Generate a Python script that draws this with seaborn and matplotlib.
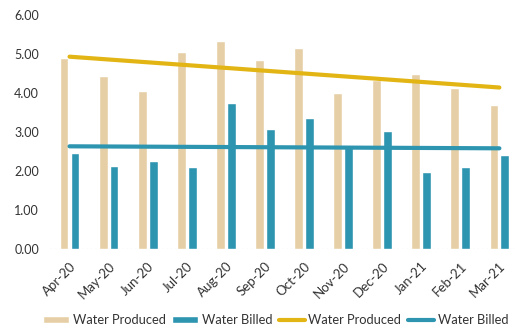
import numpy as np
import pandas as pd
import matplotlib
matplotlib.use("Agg")
import matplotlib.pyplot as plt
import seaborn as sns
from matplotlib.patches import Patch
from matplotlib.lines import Line2D

months = ["Apr-20", "May-20", "Jun-20", "Jul-20", "Aug-20", "Sep-20",
          "Oct-20", "Nov-20", "Dec-20", "Jan-21", "Feb-21", "Mar-21"]
water_produced = [4.91, 4.44, 4.05, 5.06, 5.34, 4.85, 5.15, 3.99, 4.33, 4.50, 4.12, 3.69]
water_billed = [2.47, 2.12, 2.26, 2.11, 3.74, 3.08, 3.35, 2.66, 3.02, 1.98, 2.10, 2.40]

c_prod = "#E6CFA6"
c_bill = "#2E95B0"
c_prod_line = "#E2B514"

sns.set_style("white")
plt.rcParams["font.family"] = ["Lato", "DejaVu Sans"]

df = pd.DataFrame({
    "Month": months * 2,
    "Value": water_produced + water_billed,
    "Series": ["Water Produced"] * 12 + ["Water Billed"] * 12,
})

fig = plt.figure(figsize=(5.15, 3.35), dpi=100)
ax = fig.add_axes([50 / 515, 86 / 335, 465 / 515, 234 / 335])

sns.barplot(data=df, x="Month", y="Value", hue="Series",
            palette=[c_prod, c_bill], width=0.56, gap=0.2,
            legend=False, ax=ax, saturation=1)

# linear trend lines
idx = np.arange(len(months))
sns.regplot(x=idx, y=water_produced, scatter=False, ci=None, truncate=True,
            color=c_prod_line, line_kws={"lw": 3}, ax=ax)
sns.regplot(x=idx, y=water_billed, scatter=False, ci=None, truncate=True,
            color=c_bill, line_kws={"lw": 3}, ax=ax)

ax.set_ylim(0, 6)
ax.set_xlim(-0.5, 11.4)
ax.set_yticks(np.arange(0, 6.01, 1))
ax.set_yticklabels([f"{v:.2f}" for v in np.arange(0, 6.01, 1)], fontsize=9,
                   color="#333333")
ax.set_xticks(idx)
ax.set_xticklabels(months, rotation=45, ha="right", rotation_mode="anchor",
                   fontsize=9.5, color="#333333")
ax.tick_params(axis="y", length=0, pad=8)
ax.tick_params(axis="x", length=0, pad=8)
ax.set_xlabel("")
ax.set_ylabel("")
for s in ax.spines.values():
    s.set_visible(False)
ax.axhline(0, color="#d8d8d8", lw=0.8, ls=(0, (2, 2)), zorder=0)

handles = [
    Patch(facecolor=c_prod, label="Water Produced"),
    Patch(facecolor=c_bill, label="Water Billed"),
    Line2D([0], [0], color=c_prod_line, lw=3, label="Water Produced"),
    Line2D([0], [0], color=c_bill, lw=3, label="Water Billed"),
]
fig.legend(handles=handles, loc="center", bbox_to_anchor=(0.535, 0.045), ncol=4,
           frameon=False, fontsize=9.3, handlelength=2.0, handleheight=0.5,
           handletextpad=0.3, columnspacing=0.5, labelcolor="#333333")

fig.savefig("out.png", dpi=100)
